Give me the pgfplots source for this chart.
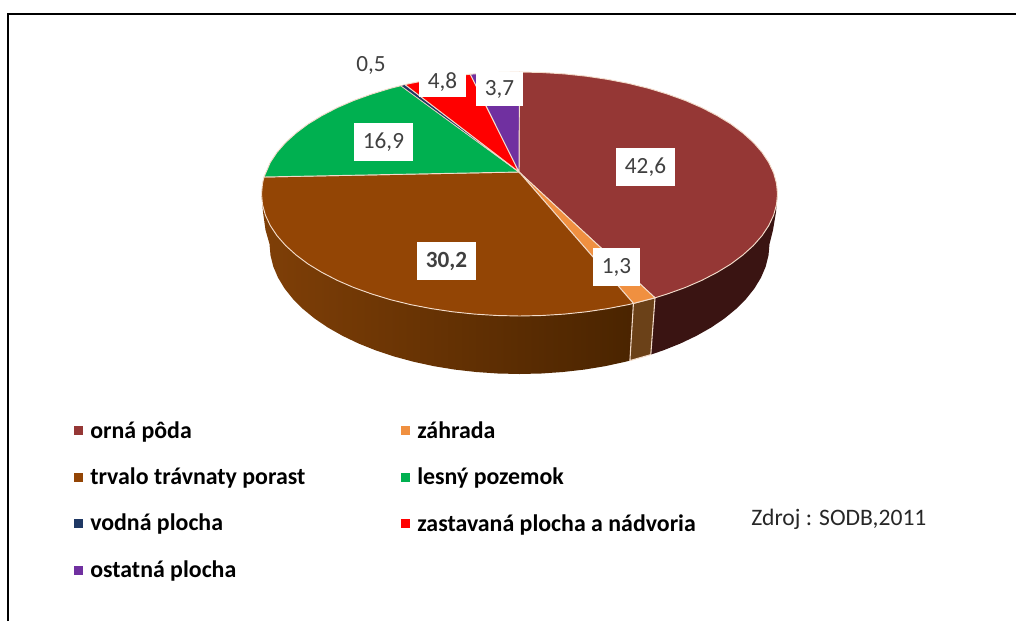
\documentclass[border=0pt]{standalone}
\usepackage{fontspec}
\setmainfont{Carlito}
\usepackage{pgfplots}
\pgfplotsset{compat=1.18}
\definecolor{cMaroon}{HTML}{953735}
\definecolor{cOrange}{HTML}{F09040}
\definecolor{cBrown}{HTML}{934505}
\definecolor{cGreen}{HTML}{00B050}
\definecolor{cNavy}{HTML}{1F3864}
\definecolor{cRed}{HTML}{FF0000}
\definecolor{cPurple}{HTML}{7030A0}
\definecolor{cPale}{HTML}{F3DCCB}
\definecolor{cTxt}{HTML}{404040}
\definecolor{cSideM}{HTML}{3A1412}
\definecolor{cSideO}{HTML}{6B4118}
\definecolor{cSideL}{HTML}{7F3F07}
\definecolor{cSideR}{HTML}{4A2400}
\newcommand{\lab}{\fontsize{17.4}{19}\selectfont}
\newcommand{\leg}{\fontsize{17.9}{20}\selectfont\bfseries}
\begin{document}
\begin{tikzpicture}
\begin{axis}[
  width=762pt,height=465.75pt,scale only axis,hide axis,
  xmin=0,xmax=1016,ymin=0,ymax=621,y dir=reverse,
  clip=true]
\path (axis cs:0,0) -- (axis cs:1016,621);
% frame
\addplot[black,line width=1.5pt] coordinates {(8,621)(8,13.5)(1016,13.5)};
% sides
\addplot[draw=none,fill=cSideM] coordinates {
(777.5,194)(776.5,204.6)(773.6,215.2)(768.7,225.6)(762,235.7)(753.3,245.6)(742.9,255)(730.9,264)(717.1,272.4)(701.9,280.3)(685.3,287.5)(667.5,293.9)(655,297.8)
(650.8,354.6)(662.9,350.5)(680.2,343.6)(696.3,335.9)(711,327.6)(724.3,318.6)(736,309)(746.1,298.9)(754.4,288.5)(761,277.6)(765.7,266.6)(768.5,255.3)(769.5,244)(773,230)(776,212)} --cycle;
\addplot[draw=none,left color=cSideL,right color=cSideR] coordinates {
(633.4,303.4)(628.5,304.6)(607.7,308.6)(586.3,311.8)(564.3,314.1)(542,315.5)(519.5,316)(497,315.5)(474.7,314.1)(452.7,311.8)(431.3,308.6)(410.5,304.6)(390.5,299.7)(371.5,293.9)(353.7,287.5)(337.1,280.3)(321.9,272.4)(308.1,264)(296.1,255)(285.7,245.6)(277,235.7)(270.3,225.6)(265.4,215.2)(262.5,204.6)(261.5,194)
(263,212)(265.5,230)(269.5,244)(270.5,255.3)(273.3,266.6)(278,277.6)(284.6,288.5)(292.9,298.9)(303,309)(314.7,318.6)(328,327.6)(342.7,335.9)(358.8,343.6)(376.1,350.5)(394.5,356.6)(413.8,361.8)(434,366.2)(454.8,369.6)(476.1,372)(497.7,373.5)(519.5,374)(541.3,373.5)(562.9,372)(584.2,369.6)(605,366.2)(625.2,361.8)(629.9,360.6)} --cycle;
\addplot[draw=cPale,line width=0.8pt,fill=cSideO] coordinates {
(655,297.8)(633.4,303.4)(629.9,360.6)(650.8,354.6)} --cycle;
% top
\addplot[draw=cPale,line width=0.7pt,fill=cMaroon] coordinates {
(519,172)(519.5,72)(542,72.5)(564.3,73.9)(586.3,76.2)(607.7,79.4)(628.5,83.4)(648.5,88.3)(667.5,94.1)(685.3,100.5)(701.9,107.7)(717.1,115.6)(730.9,124)(742.9,133)(753.3,142.4)(762,152.3)(768.7,162.4)(773.6,172.8)(776.5,183.4)(777.5,194)(776.5,204.6)(773.6,215.2)(768.7,225.6)(762,235.7)(753.3,245.6)(742.9,255)(730.9,264)(717.1,272.4)(701.9,280.3)(685.3,287.5)(667.5,293.9)(655,297.8)} --cycle;
\addplot[draw=cPale,line width=0.7pt,fill=cOrange] coordinates {
(519,172)(655,297.8)(633.4,303.4)} --cycle;
\addplot[draw=cPale,line width=0.7pt,fill=cBrown] coordinates {
(519,172)(633.4,303.4)(628.5,304.6)(607.7,308.6)(586.3,311.8)(564.3,314.1)(542,315.5)(519.5,316)(497,315.5)(474.7,314.1)(452.7,311.8)(431.3,308.6)(410.5,304.6)(390.5,299.7)(371.5,293.9)(353.7,287.5)(337.1,280.3)(321.9,272.4)(308.1,264)(296.1,255)(285.7,245.6)(277,235.7)(270.3,225.6)(265.4,215.2)(262.5,204.6)(261.5,194)(262.5,183.4)(264,177)} --cycle;
\addplot[draw=cPale,line width=0.7pt,fill=cGreen] coordinates {
(519,172)(264,177)(270.3,162.4)(277,152.3)(285.7,142.4)(296.1,133)(308.1,124)(321.9,115.6)(337.1,107.7)(353.7,100.5)(371.5,94.1)(390.5,88.3)(400.8,85.7)} --cycle;
\addplot[draw=cPale,line width=0.4pt,fill=cNavy] coordinates {
(519,172)(400.8,85.7)(405,84.6)} --cycle;
\addplot[draw=cPale,line width=0.7pt,fill=cRed] coordinates {
(519,172)(405,84.6)(410.5,83.4)(431.3,79.4)(452.7,76.2)(470.3,74.2)} --cycle;
\addplot[draw=cPale,line width=0.7pt,fill=cPurple] coordinates {
(519,172)(470.3,74.2)(497,72.5)(519.5,72)} --cycle;
% legend marks
\addplot[only marks,mark=square*,mark size=3pt,cMaroon,mark options={draw=none}] coordinates {(78,430)};
\addplot[only marks,mark=square*,mark size=3pt,cBrown,mark options={draw=none}] coordinates {(78,477)};
\addplot[only marks,mark=square*,mark size=3pt,cNavy,mark options={draw=none}] coordinates {(78,523)};
\addplot[only marks,mark=square*,mark size=3pt,cPurple,mark options={draw=none}] coordinates {(78,570)};
\addplot[only marks,mark=square*,mark size=3pt,cOrange,mark options={draw=none}] coordinates {(405,430)};
\addplot[only marks,mark=square*,mark size=3pt,cGreen,mark options={draw=none}] coordinates {(405,477)};
\addplot[only marks,mark=square*,mark size=3pt,cRed,mark options={draw=none}] coordinates {(405,523)};
% value labels
\tikzset{vbox/.style={fill=white,inner sep=0pt,text=cTxt,font=\lab,anchor=center,minimum height=28.5pt}}
\node[vbox,minimum width=44.25pt] at (axis cs:383.5,141.7) {16,9};
\node[vbox,minimum width=35pt,minimum height=23pt] at (axis cs:442.5,82) {4,8};
\node[vbox,minimum width=35pt,minimum height=25pt] at (axis cs:499.5,89) {3,7};
\node[vbox,minimum width=44.25pt] at (axis cs:645.5,167) {42,6};
\node[vbox,minimum width=44.25pt] at (axis cs:446.5,261) {\bfseries 30,2};
\node[vbox,minimum width=35pt] at (axis cs:616.5,267) {1,3};
\node[text=cTxt,font=\lab,inner sep=0pt] at (axis cs:371,65) {0,5};
% legend text
\tikzset{ltext/.style={anchor=base west,inner sep=0pt,font=\leg,text=black}}
\node[ltext] at (axis cs:90,438) {orná pôda};
\node[ltext] at (axis cs:90,484) {trvalo trávnaty porast};
\node[ltext] at (axis cs:90,530) {vodná plocha};
\node[ltext] at (axis cs:90,577) {ostatná plocha};
\node[ltext] at (axis cs:417,438) {záhrada};
\node[ltext] at (axis cs:417,484) {lesný pozemok};
\node[ltext] at (axis cs:417,531) {zastavaná plocha a nádvoria};
\node[anchor=base west,inner sep=0pt,font=\fontsize{17.7}{20}\selectfont,text=cTxt!60!black] at (axis cs:751,525) {Zdroj : SODB,2011};
\end{axis}
\end{tikzpicture}
\end{document}
